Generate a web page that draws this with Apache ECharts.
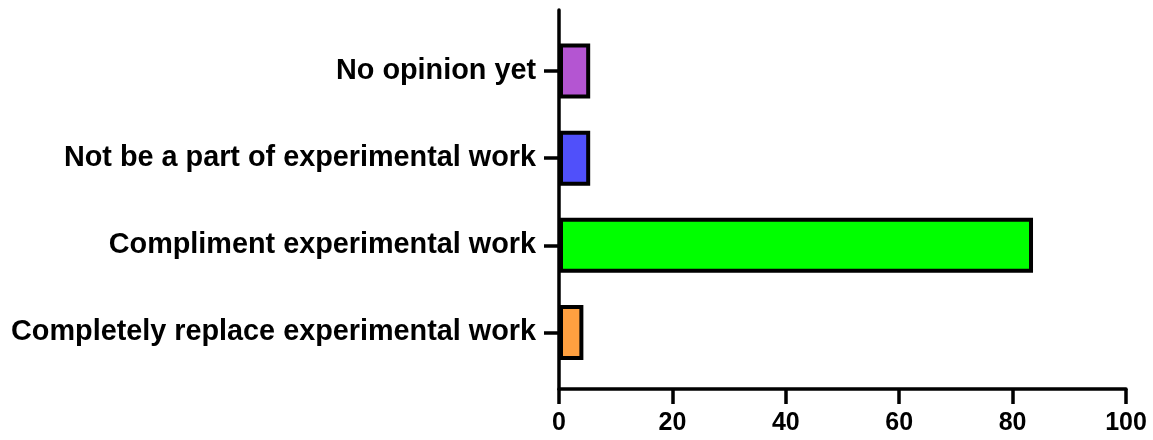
<!DOCTYPE html>
<html>
<head>
<meta charset="utf-8">
<script src="https://cdn.jsdelivr.net/npm/echarts@6/dist/echarts.min.js"></script>
<style>
html,body{margin:0;padding:0;background:#fff;}
#chart{width:1153px;height:440px;}
</style>
</head>
<body>
<div id="chart"></div>
<script>
var categories = ["Completely replace experimental work", "Compliment experimental work", "Not be a part of experimental work", "No opinion yet"];
var values = [4.3, 83.6, 5.5, 5.5];
var colors = ["#FFA040", "#00FF00", "#5050FA", "#B455D2"];
var xTicks = [0, 20, 40, 60, 80, 100];

var chart = echarts.init(document.getElementById('chart'));
var font = "'Liberation Sans', Arial, sans-serif";
var data = values.map(function (v, i) {
  return { value: v, itemStyle: { color: colors[i] } };
});
var axisLineStyle = { color: '#000', width: 3.5 };
chart.setOption({
  animation: false,
  backgroundColor: '#ffffff',
  grid: [
    { left: 559, right: 27, top: 27.4, bottom: 63.9, containLabel: false },
    { left: 559, right: 27, top: 10, bottom: 51, containLabel: false }
  ],
  xAxis: [
    { gridIndex: 0, type: 'value', min: xTicks[0], max: xTicks[xTicks.length - 1], interval: 20, show: false },
    {
      gridIndex: 1, type: 'value', min: xTicks[0], max: xTicks[xTicks.length - 1], interval: 20,
      axisLine: { show: true, lineStyle: axisLineStyle },
      axisTick: { show: true, length: 15, lineStyle: axisLineStyle },
      splitLine: { show: false },
      axisLabel: { color: '#000', fontFamily: font, fontWeight: 'bold', fontSize: 25, margin: 22 }
    }
  ],
  yAxis: [
    {
      gridIndex: 0, type: 'category', data: categories,
      axisLine: { show: false },
      axisTick: { show: true, alignWithLabel: true, length: 15, lineStyle: axisLineStyle },
      splitLine: { show: false },
      axisLabel: { color: '#000', fontFamily: font, fontWeight: 'bold', fontSize: 28.8, margin: 23 }
    },
    {
      gridIndex: 1, type: 'value', min: 0, max: 1,
      axisLine: { show: true, onZero: false, lineStyle: axisLineStyle },
      axisTick: { show: false }, axisLabel: { show: false }, splitLine: { show: false }
    }
  ],
  series: [{
    type: 'bar',
    xAxisIndex: 0, yAxisIndex: 0,
    data: data,
    barWidth: 55,
    itemStyle: { borderColor: '#000', borderWidth: 4 }
  }]
});
</script>
</body>
</html>
